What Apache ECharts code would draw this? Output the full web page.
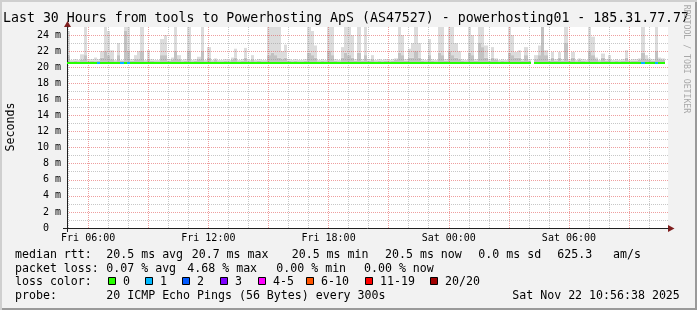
<!DOCTYPE html>
<html><head><meta charset="utf-8">
<script src="https://cdn.jsdelivr.net/npm/echarts@6/dist/echarts.min.js"></script>
<style>
html,body{margin:0;padding:0;background:#f2f2f2;}
#frame{position:relative;width:697px;height:310px;background:#f2f2f2;box-shadow:inset 2px 2px 0 #cfcfcf, inset -2px -2px 0 #9a9a9a;}
#chart{position:absolute;left:0;top:0;width:697px;height:310px;}
</style></head>
<body><div id="frame"><div id="chart"></div></div>
<script>
// ---- time frame (hours since Fri 00:00) ----
const START_H = 4 + 56/60 + 38/3600;   // Fri 04:56:38
const END_H = START_H + 30;             // Sat 10:56:38
const BIN_H = 10/60;                    // 10-minute bins

// ---- data (values in ms) ----
const smokeMax = [
 24.5,20.9,21.0,20.9,21.6,25.0,20.9,21.0,21.2,21.0,22.0,25.0,
 24.5,22.1,20.9,23.0,20.9,25.0,25.0,21.0,21.5,22.0,25.0,20.9,
 22.1,21.0,20.9,20.9,23.5,24.0,21.0,21.2,25.0,21.5,20.9,21.0,
 25.0,20.9,21.0,21.3,25.0,20.9,22.5,20.9,21.1,20.9,20.9,21.0,
 20.9,21.2,22.3,20.9,21.0,22.4,20.9,21.5,20.9,21.0,20.9,20.9,
 25.0,25.0,25.0,25.0,22.0,22.8,21.0,20.9,21.0,20.9,20.9,21.0,
 25.0,24.5,22.7,20.9,21.0,20.9,25.0,25.0,21.0,20.9,22.5,25.0,
 25.0,24.0,21.0,25.0,21.0,25.0,21.0,21.5,20.9,21.0,20.9,21.0,
 20.9,21.0,21.1,25.0,24.0,21.0,22.3,23.0,25.0,23.0,21.0,20.9,
 23.5,21.0,20.9,25.0,25.0,21.0,25.0,25.0,23.0,22.0,21.0,20.9,
 25.0,24.0,21.0,25.0,25.0,22.7,21.0,22.5,21.1,20.9,21.0,20.9,
 25.0,24.0,21.9,22.1,21.0,22.5,21.0,null,21.5,22.7,25.0,22.1,
 21.0,21.9,21.0,21.9,21.0,25.0,21.0,21.9,20.9,21.1,21.0,20.9,
 25.0,23.8,21.2,20.9,21.7,21.0,21.5,20.9,21.0,20.9,21.0,22.1,
 20.9,21.0,21.0,21.1,25.0,21.5,21.1,21.0,25.0,21.2,21.1,null
];
const smokeMid = [
 21.5,20.75,20.8,20.75,20.9,21.5,20.75,20.8,20.75,20.8,21.2,22.0,
 21.5,21.0,20.75,21.5,20.8,24.5,22.0,20.8,21.0,21.0,22.0,20.75,
 21.0,20.8,20.75,20.75,21.5,21.5,20.8,20.9,22.0,21.0,20.75,20.8,
 22.0,20.75,20.8,21.0,22.0,20.75,21.2,20.75,20.9,20.75,20.75,20.8,
 20.75,20.9,21.2,20.75,20.8,21.2,20.75,21.0,20.75,20.8,20.75,20.75,
 21.5,21.8,21.5,21.2,21.0,21.2,20.8,20.75,20.8,20.75,20.75,20.8,
 21.8,21.5,21.2,20.75,20.8,20.75,22.0,21.5,20.8,20.75,21.2,21.8,
 21.5,21.2,20.8,21.8,20.8,21.5,20.8,21.0,20.75,20.8,20.75,20.8,
 20.75,20.8,20.9,21.8,21.5,20.8,21.2,21.2,22.0,21.2,20.8,20.75,
 21.5,20.8,20.75,21.8,21.5,20.8,22.0,21.5,21.2,21.0,20.8,20.75,
 21.8,21.5,20.8,23.0,22.5,21.2,20.8,21.2,20.9,20.75,20.8,20.75,
 21.8,21.5,21.2,21.2,20.8,21.5,20.8,null,21.0,21.5,25.0,21.5,
 20.8,21.2,20.8,21.2,20.8,23.0,20.8,21.2,20.75,20.9,20.8,20.75,
 22.0,21.5,21.0,20.75,21.2,20.8,21.0,20.75,20.8,20.75,20.8,21.2,
 20.75,20.8,20.8,20.9,21.8,21.0,20.9,20.8,22.0,21.0,20.9,null
];
const medianRtt = [
 20.5,20.5,20.5,20.5,20.5,20.5,20.5,20.5,20.5,20.5,20.5,20.5,
 20.5,20.5,20.5,20.5,20.5,20.5,20.5,20.5,20.5,20.5,20.5,20.5,
 20.5,20.5,20.5,20.5,20.5,20.5,20.5,20.5,20.5,20.5,20.5,20.5,
 20.5,20.5,20.5,20.5,20.5,20.5,20.5,20.5,20.5,20.5,20.5,20.5,
 20.5,20.5,20.5,20.5,20.5,20.5,20.5,20.5,20.5,20.5,20.5,20.5,
 20.5,20.5,20.5,20.5,20.5,20.5,20.5,20.5,20.5,20.5,20.5,20.5,
 20.5,20.5,20.5,20.5,20.5,20.5,20.5,20.5,20.5,20.5,20.5,20.5,
 20.5,20.5,20.5,20.5,20.5,20.5,20.5,20.5,20.5,20.5,20.5,20.5,
 20.5,20.5,20.5,20.5,20.5,20.5,20.5,20.5,20.5,20.5,20.5,20.5,
 20.5,20.5,20.5,20.5,20.5,20.5,20.5,20.5,20.5,20.5,20.5,20.5,
 20.5,20.5,20.5,20.5,20.5,20.5,20.5,20.5,20.5,20.5,20.5,20.5,
 20.5,20.5,20.5,20.5,20.5,20.5,20.5,null,20.5,20.5,20.5,20.5,
 20.5,20.5,20.5,20.5,20.5,20.5,20.5,20.5,20.5,20.5,20.5,20.5,
 20.5,20.5,20.5,20.5,20.5,20.5,20.5,20.5,20.5,20.5,20.5,20.5,
 20.5,20.5,20.5,20.5,20.5,20.5,20.5,20.5,20.5,20.5,20.5,null
];
const lossCount = [
 0,0,0,0,0,0,0,0,0,1,0,0,
 0,0,0,0,1,0,1,0,0,0,0,0,
 0,0,0,0,0,0,0,0,0,0,0,0,
 0,0,0,0,0,0,0,0,0,0,0,0,
 0,0,0,0,0,0,0,0,0,0,0,0,
 0,0,0,0,0,0,0,0,0,0,0,0,
 0,0,0,0,0,0,0,0,0,0,0,0,
 0,0,0,0,0,0,0,0,0,0,0,0,
 0,0,0,0,0,0,0,0,0,0,0,0,
 0,0,0,0,0,0,0,0,0,0,0,0,
 0,0,0,0,0,0,0,0,0,0,0,0,
 0,0,0,0,0,0,0,null,0,0,0,0,
 0,0,0,0,0,0,0,0,0,0,0,0,
 0,0,0,0,0,0,0,0,0,0,0,0,
 0,0,0,0,1,0,0,0,1,0,0,null
];
const SMOKE_FLOOR = 20.4;

// ---- axes ----
const xTickHours = [6, 12, 18, 24, 30];
const xTickLabels = ['Fri 06:00', 'Fri 12:00', 'Fri 18:00', 'Sat 00:00', 'Sat 06:00'];
const xMajorHours = [6, 9, 12, 15, 18, 21, 24, 27, 30, 33];
const xMinorHours = [5, 7, 8, 10, 11, 13, 14, 16, 17, 19, 20, 22, 23, 25, 26, 28, 29, 31, 32, 34];
const yMax = 25;
const yMinorValues = [1, 3, 5, 7, 9, 11, 13, 15, 17, 19, 21, 23];

// ---- legend texts ----
const lossLabels = ['0', '1', '2', '3', '4-5', '6-10', '11-19', '20/20'];
const lossColors = ['#26ff00', '#00b8ff', '#0059ff', '#7e00ff', '#ff00ff', '#ff5500', '#ff0000', '#a00000'];
const lossLimits = [0, 1, 2, 3, 5, 10, 19, 20];
const titleText = 'Last 30 Hours from tools to Powerhosting ApS (AS47527) - powerhosting01 - 185.31.77.77';
const rttTexts = ['median rtt:', '20.5 ms avg', '20.7 ms max', '20.5 ms min', '20.5 ms now', '0.0 ms sd', '625.3', 'am/s'];
const lossTexts = ['packet loss:', '0.07 % avg', '4.68 % max', '0.00 % min', '0.00 % now'];
const lossColorText = 'loss color:';
const probeTexts = ['probe:', '20 ICMP Echo Pings (56 Bytes) every 300s', 'Sat Nov 22 10:56:38 2025'];
const yName = 'Seconds';
const watermark = 'RRDTOOL / TOBI OETIKER';

// ---- build series data ----
function lossClass(n) { for (let k = 0; k < lossLimits.length; k++) if (n <= lossLimits[k]) return k; return lossLimits.length - 1; }
const smokeData = [], medianData = [];
smokeMax.forEach((mx, i) => {
  const s = START_H + i * BIN_H;
  if (mx != null) smokeData.push([s, s + BIN_H, SMOKE_FLOOR, smokeMid[i], mx]);
  if (medianRtt[i] != null) medianData.push([s, s + BIN_H, medianRtt[i], lossClass(lossCount[i])]);
});

const MONO = '"DejaVu Sans Mono", monospace';
const FS = 11.6;
function txt(x, y, t, extra) {
  return Object.assign({ type: 'text', x: x, y: y, silent: true,
    style: { text: t, font: FS + 'px ' + MONO, fill: '#000', textVerticalAlign: 'middle' } }, extra || {});
}

const graphics = [];
graphics.push({ type: 'text', x: 3, y: 18.9, silent: true, style: { text: titleText, font: '13.25px ' + MONO, fill: '#000', textVerticalAlign: 'middle' } });
graphics.push({ type: 'text', x: 11, y: 127, rotation: Math.PI / 2, silent: true, style: { text: yName, font: FS + 'px ' + MONO, fill: '#000', textAlign: 'center', textVerticalAlign: 'middle' } });
graphics.push({ type: 'text', x: 686, y: 59, rotation: -Math.PI / 2, silent: true, style: { text: watermark, font: '8.2px ' + MONO, fill: '#a8a8a8', textAlign: 'center', textVerticalAlign: 'middle' } });
// arrows & axis extension
graphics.push({ type: 'polygon', silent: true, shape: { points: [[67.5, 21], [64, 27], [71, 27]] }, style: { fill: '#7f1f1f' } });
graphics.push({ type: 'polygon', silent: true, shape: { points: [[674.5, 228.5], [668, 225], [668, 232]] }, style: { fill: '#7f1f1f' } });
graphics.push({ type: 'line', silent: true, shape: { x1: 63, y1: 228.5, x2: 67, y2: 228.5 }, style: { stroke: '#202020', lineWidth: 1 } });
graphics.push({ type: 'line', silent: true, shape: { x1: 67.5, y1: 228, x2: 67.5, y2: 232 }, style: { stroke: '#202020', lineWidth: 1 } });

const rttX = [15, 106.3, 191.7, 291.7, 385, 478.3, 557.3, 613];
rttTexts.forEach((t, i) => graphics.push(txt(rttX[i], 254.5, t)));
const lossX = [15, 106.3, 187.3, 276.3, 364];
lossTexts.forEach((t, i) => graphics.push(txt(lossX[i], 268.6, t)));
graphics.push(txt(15, 282.4, lossColorText));
const sqX = [108.5, 145.5, 182.5, 220.5, 258.5, 306.5, 365.5, 430.5];
lossLabels.forEach((t, i) => {
  graphics.push({ type: 'rect', silent: true, shape: { x: sqX[i], y: 277.5, width: 7, height: 7 }, style: { fill: lossColors[i], stroke: '#000', lineWidth: 1 } });
  graphics.push(txt(sqX[i] + 14.5, 282.4, t));
});
const probeX = [15, 106.3, 512.3];
probeTexts.forEach((t, i) => graphics.push(txt(probeX[i], 296.3, t)));

const gridRed = { color: 'rgba(224,80,80,0.55)', type: [1, 1], width: 1 };
const gridGray = { color: 'rgba(143,143,143,0.5)', type: [1, 1], width: 1 };

const option = {
  animation: false,
  backgroundColor: 'transparent',
  grid: { left: 67, top: 27, width: 601, height: 201, show: true, backgroundColor: '#ffffff', borderWidth: 0, containLabel: false, outerBoundsMode: 'none' },
  xAxis: [
    { type: 'value', min: START_H, max: END_H, position: 'bottom', z: 3,
      axisLine: { show: true, onZero: false, lineStyle: { color: '#202020', width: 1 } },
      axisTick: { show: false, customValues: xMajorHours },
      axisLabel: { customValues: xTickHours, formatter: v => xTickLabels[xTickHours.indexOf(v)], color: '#000', fontFamily: MONO, fontSize: 10, margin: 10.5, verticalAlign: 'middle' },
      splitLine: { show: true, lineStyle: gridRed } },
    { type: 'value', min: START_H, max: END_H, position: 'top', z: 3,
      axisLine: { show: false }, axisTick: { show: false, customValues: xMinorHours }, axisLabel: { show: false },
      splitLine: { show: true, lineStyle: gridGray } }
  ],
  yAxis: [
    { type: 'value', min: 0, max: yMax, interval: 2, position: 'left', z: 3,
      axisLine: { show: true, onZero: false, lineStyle: { color: '#202020', width: 1 } },
      axisTick: { show: false },
      axisLabel: { formatter: v => (v === 0 ? '0  ' : v + ' m'), showMaxLabel: false, color: '#000', fontFamily: MONO, fontSize: 10, margin: 6 },
      splitLine: { show: true, showMaxLine: false, showMinLine: false, lineStyle: gridRed } },
    { type: 'value', min: 0, max: yMax, position: 'right', z: 3,
      axisLine: { show: false }, axisTick: { show: false, customValues: yMinorValues }, axisLabel: { show: false },
      splitLine: { show: true, lineStyle: gridGray } }
  ],
  graphic: graphics,
  series: [
    { type: 'custom', name: 'smoke', xAxisIndex: 0, yAxisIndex: 0, z: 2, silent: true,
      encode: { x: [0, 1], y: [2, 3, 4] },
      data: smokeData,
      renderItem: function (params, api) {
        const a = api.coord([api.value(0), api.value(2)]);
        const m = api.coord([api.value(1), api.value(3)]);
        const t = api.coord([api.value(1), api.value(4)]);
        const x0 = Math.round(a[0]), x1 = Math.round(m[0]);
        return { type: 'group', children: [
          { type: 'rect', shape: { x: x0, y: m[1], width: x1 - x0, height: a[1] - m[1] }, style: { fill: '#c2c2c2' } },
          { type: 'rect', shape: { x: x0, y: t[1], width: x1 - x0, height: m[1] - t[1] }, style: { fill: '#dcdcdc' } }
        ] };
      } },
    { type: 'custom', name: 'median', xAxisIndex: 0, yAxisIndex: 0, z: 5, silent: true,
      encode: { x: [0, 1], y: 2 },
      data: medianData,
      renderItem: function (params, api) {
        const a = api.coord([api.value(0), api.value(2)]);
        const b = api.coord([api.value(1), api.value(2)]);
        const x0 = Math.round(a[0]), x1 = Math.round(b[0]);
        const y0 = Math.round(a[1] - 1);
        return { type: 'rect', z2: 10, shape: { x: x0, y: y0, width: x1 - x0, height: 2 }, style: { fill: lossColors[api.value(3)] } };
      } }
  ]
};
echarts.init(document.getElementById('chart'), null, { renderer: 'canvas' }).setOption(option);
</script>
</body></html>
